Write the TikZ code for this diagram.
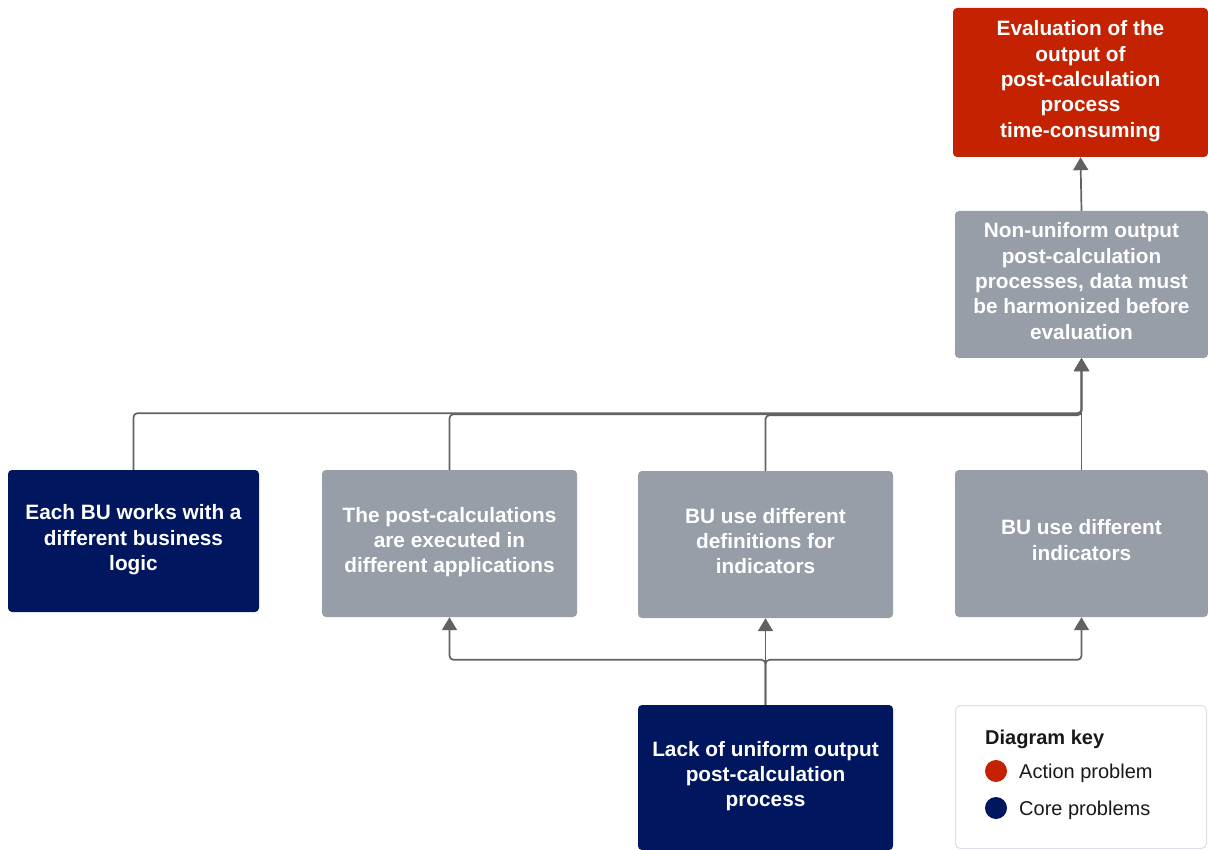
\documentclass[tikz,border=0pt]{standalone}
\usepackage{fontspec}
\setmainfont{Liberation Sans}
\usetikzlibrary{arrows.meta,calc}
\definecolor{actionred}{RGB}{196,34,0}
\definecolor{corenavy}{RGB}{0,22,94}
\definecolor{boxgray}{RGB}{152,158,168}
\definecolor{linegray}{RGB}{98,98,98}
\definecolor{keyframe}{RGB}{220,223,229}

\begin{document}
\begin{tikzpicture}[x=1pt,y=-1pt,
    problem/.style={rectangle,rounded corners=4pt,minimum width=255pt,minimum height=147pt,
      inner sep=0pt,align=center,text=white,text depth=7pt,
      font=\fontsize{20.8}{25.3}\selectfont\bfseries},
    link/.style={draw=linegray,line width=1.7pt,rounded corners=4pt,
      -{Triangle[length=13pt,width=15pt]}},
    keytext/.style={anchor=west,inner sep=0pt,text=black!90,font=\fontsize{20}{24}\selectfont}]
      \useasboundingbox (0,0) rectangle (1208,850);
      % boxes
      \node[problem,fill=actionred,minimum height=149pt] (eval) at (1080.5,82.5)
        {Evaluation of the\\output of\\post-calculation\\process\\time-consuming};
      \node[problem,fill=boxgray,minimum width=253pt] (nonuni) at (1081.5,284.5)
        {Non-uniform output\\post-calculation\\processes, data must\\be harmonized before\\evaluation};
      \node[problem,fill=corenavy,minimum width=251pt,minimum height=142pt] (each) at (133.5,541)
        {Each BU works with a\\different business\\logic};
      \node[problem,fill=boxgray] (post) at (449.5,543.5)
        {The post-calculations\\are executed in\\different applications};
      \node[problem,fill=boxgray] (defs) at (765.5,544.5)
        {BU use different\\definitions for\\indicators};
      \node[problem,fill=boxgray,minimum width=253pt] (ind) at (1081.5,543.5)
        {BU use different\\indicators};
      \node[problem,fill=corenavy,minimum height=145pt] (lack) at (765.5,777.5)
        {Lack of uniform output\\post-calculation\\process};
      % key
      \node[rectangle,rounded corners=5pt,draw=keyframe,line width=1pt,fill=white,
        minimum width=251pt,minimum height=143pt] (key) at (1081,777) {};
      \node[keytext,font=\fontsize{20}{24}\selectfont\bfseries] (keytitle) at (985,739) {Diagram key};
      \node[circle,fill=actionred,minimum size=22pt,inner sep=0pt] (dotaction) at (996,771) {};
      \node[keytext] (keyaction) at (1019,773) {Action problem};
      \node[circle,fill=corenavy,minimum size=22pt,inner sep=0pt] (dotcore) at (996,808) {};
      \node[keytext] (keycore) at (1019,810) {Core problems};
      % connectors
      \draw[link] (nonuni.north) -- (eval.south);
      \draw[link] (each.north) |- ($(nonuni.south)+(0,55)$) -- (nonuni.south);
      \draw[link] (post.north) |- ($(nonuni.south)+(0,56)$) -- (nonuni.south);
      \draw[link] (defs.north) |- ($(nonuni.south)+(0,57)$) -- (nonuni.south);
      \draw[link] (ind.north) -- (nonuni.south);
      \coordinate (split) at ($(lack.north)+(0,-45)$);
      \draw[link] (lack.north) -- (split) -| (post.south);
      \draw[link] (lack.north) -- (defs.south);
      \draw[link] (lack.north) -- (split) -| (ind.south);
    \end{tikzpicture}
\end{document}
